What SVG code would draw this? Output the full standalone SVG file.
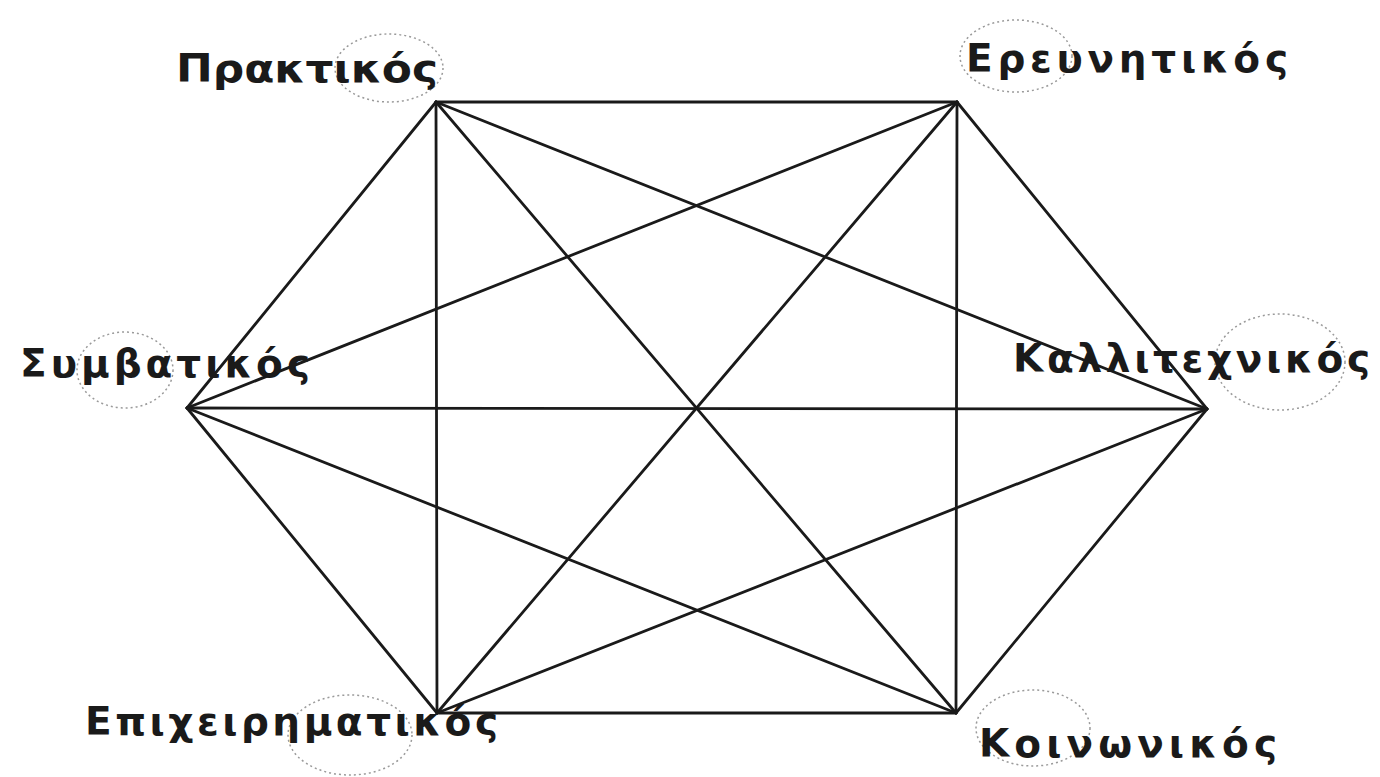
<svg xmlns="http://www.w3.org/2000/svg" width="1380" height="777" viewBox="0 0 1380 777">
<style>
.bg{fill:#ffffff}
.edge{stroke:#1a1a1a;stroke-width:2.8;fill:none;stroke-linecap:round}
.ring{fill:none;stroke:#9a9a9a;stroke-width:1.5;stroke-dasharray:2 3}
.lbl{font-family:"DejaVu Sans","Liberation Sans",sans-serif;font-weight:bold;font-size:39px;fill:#1a1a1a}
</style>
<rect class="bg" x="0" y="0" width="1380" height="777"/>
<g id="connectors">
<line class="edge" x1="436" y1="102" x2="957" y2="102"/>
<line class="edge" x1="436" y1="102" x2="187" y2="408"/>
<line class="edge" x1="436" y1="102" x2="1207" y2="409"/>
<line class="edge" x1="436" y1="102" x2="437" y2="713"/>
<line class="edge" x1="436" y1="102" x2="956" y2="713"/>
<line class="edge" x1="957" y1="102" x2="187" y2="408"/>
<line class="edge" x1="957" y1="102" x2="1207" y2="409"/>
<line class="edge" x1="957" y1="102" x2="437" y2="713"/>
<line class="edge" x1="957" y1="102" x2="956" y2="713"/>
<line class="edge" x1="187" y1="408" x2="1207" y2="409"/>
<line class="edge" x1="187" y1="408" x2="437" y2="713"/>
<line class="edge" x1="187" y1="408" x2="956" y2="713"/>
<line class="edge" x1="1207" y1="409" x2="437" y2="713"/>
<line class="edge" x1="1207" y1="409" x2="956" y2="713"/>
<line class="edge" x1="437" y1="713" x2="956" y2="713"/>
</g>
<g id="node-praktikos">
<ellipse class="ring" cx="389" cy="68" rx="54" ry="34"/>
<text class="lbl" x="176" y="82" textLength="262" lengthAdjust="spacingAndGlyphs">Πρακτικός</text>
</g>
<g id="node-erevnitikos">
<ellipse class="ring" cx="1016" cy="56" rx="56" ry="36"/>
<text class="lbl" x="966" y="72" textLength="322" lengthAdjust="spacing">Ερευνητικός</text>
</g>
<g id="node-symvatikos">
<ellipse class="ring" cx="125" cy="370" rx="48" ry="38"/>
<text class="lbl" x="20" y="377" textLength="290" lengthAdjust="spacing">Συμβατικός</text>
</g>
<g id="node-kallitechnikos">
<ellipse class="ring" cx="1280" cy="362" rx="65" ry="48"/>
<text class="lbl" x="1013" y="372" textLength="357" lengthAdjust="spacing">Καλλιτεχνικός</text>
</g>
<g id="node-epicheirimatikos">
<ellipse class="ring" cx="350" cy="735" rx="62" ry="40"/>
<text class="lbl" x="85" y="735" textLength="413" lengthAdjust="spacing">Επιχειρηματικός</text>
</g>
<g id="node-koinonikos">
<ellipse class="ring" cx="1033" cy="728" rx="57" ry="38"/>
<text class="lbl" x="979" y="757" textLength="298" lengthAdjust="spacing">Κοινωνικός</text>
</g>
</svg>
